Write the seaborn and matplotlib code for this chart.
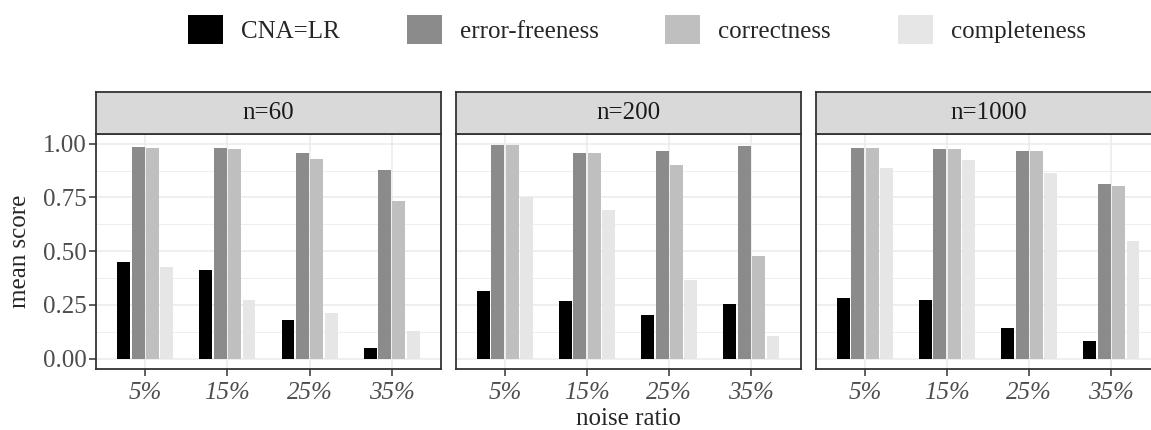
import numpy as np
import pandas as pd
import matplotlib
matplotlib.use("Agg")
import matplotlib.pyplot as plt
import seaborn as sns
from matplotlib.patches import Patch

# %%

noise = ["5%", "15%", "25%", "35%"]
sizes = ["n=60", "n=200", "n=1000"]
measures = ["CNA=LR", "error-freeness", "correctness", "completeness"]
colors = ["#000000", "#8B8B8B", "#BFBFBF", "#E6E6E6"]
yticks = [0.0, 0.25, 0.5, 0.75, 1.0]
yticklabels = ["0.00", "0.25", "0.50", "0.75", "1.00"]

# mean score per noise ratio, one list per measure
n60_cna = [0.450, 0.414, 0.181, 0.051]
n60_errfree = [0.986, 0.981, 0.958, 0.879]
n60_correct = [0.981, 0.977, 0.930, 0.735]
n60_complete = [0.428, 0.274, 0.214, 0.130]

n200_cna = [0.316, 0.270, 0.205, 0.256]
n200_errfree = [0.995, 0.958, 0.967, 0.991]
n200_correct = [0.995, 0.958, 0.902, 0.479]
n200_complete = [0.752, 0.693, 0.367, 0.107]

n1000_cna = [0.284, 0.274, 0.140, 0.084]
n1000_errfree = [0.981, 0.977, 0.967, 0.814]
n1000_correct = [0.981, 0.977, 0.967, 0.805]
n1000_complete = [0.888, 0.926, 0.865, 0.549]

# %%

rows = []
series = {
    "n=60": [n60_cna, n60_errfree, n60_correct, n60_complete],
    "n=200": [n200_cna, n200_errfree, n200_correct, n200_complete],
    "n=1000": [n1000_cna, n1000_errfree, n1000_correct, n1000_complete],
}
for s in sizes:
    for m, vals in zip(measures, series[s]):
        for nr, v in zip(noise, vals):
            rows.append({"n": s, "measure": m, "noise": nr, "score": v})
df = pd.DataFrame(rows)

# %%

sns.set_style("white")
plt.rcParams["font.family"] = ["Liberation Serif", "DejaVu Serif"]

W, H = 1151, 430
fig = plt.figure(figsize=(W / 100, H / 100), dpi=100)

edge = "#333333"
lefts = [96, 455.7, 815.7]
pw = 345
p_top, p_bot, s_top = 134, 369.3, 92.3

for i, s in enumerate(sizes):
    ax = fig.add_axes([lefts[i] / W, (H - p_bot) / H, pw / W, (p_bot - p_top) / H])
    sub = df[df["n"] == s]
    sns.barplot(data=sub, x="noise", y="score", hue="measure", order=noise,
                hue_order=measures, palette=colors, width=0.7, gap=0.1,
                linewidth=0, errorbar=None, legend=False, ax=ax)
    ax.set_xlim(-0.6, 3.6)
    ax.set_ylim(-0.05, 1.045)
    ax.set_yticks(yticks)
    ax.set_yticks([0.125, 0.375, 0.625, 0.875], minor=True)
    ax.set_axisbelow(True)
    ax.grid(which="major", color="#EBEBEB", linewidth=1.1)
    ax.grid(which="minor", axis="y", color="#EBEBEB", linewidth=0.6)
    for sp in ax.spines.values():
        sp.set_color(edge)
        sp.set_linewidth(1.3)
    ax.set_xlabel("")
    ax.set_ylabel("")
    ax.set_xticks(range(len(noise)))
    ax.set_xticklabels(noise, fontstyle="italic", fontsize=18, color="#4D4D4D")
    ax.tick_params(axis="x", which="major", length=5, width=1.1, color=edge,
                   bottom=True, pad=4)
    ax.tick_params(axis="y", which="minor", length=0)
    if i == 0:
        ax.set_yticklabels(yticklabels, fontsize=18, color="#4D4D4D")
        ax.tick_params(axis="y", which="major", length=5, width=1.1, color=edge,
                       left=True, pad=2)
    else:
        ax.tick_params(axis="y", which="major", length=0, labelleft=False)

    st = fig.add_axes([lefts[i] / W, (H - p_top) / H, pw / W, (p_top - s_top) / H])
    st.set_facecolor("#D9D9D9")
    st.set_xticks([])
    st.set_yticks([])
    for sp in st.spines.values():
        sp.set_color(edge)
        sp.set_linewidth(1.3)
    st.text(0.5, 0.5, s, ha="center", va="center", fontsize=18,
            color="#1A1A1A", transform=st.transAxes)

fig.text(20 / W, 1 - 251.5 / H, "mean score", rotation=90, ha="center",
         va="center", fontsize=18)
fig.text(628 / W, 1 - 419 / H, "noise ratio", ha="center", va="center",
         fontsize=18)

handles = [Patch(facecolor=c, edgecolor="none", label=m)
           for c, m in zip(colors, measures)]
fig.legend(handles=handles, loc="center", bbox_to_anchor=(637 / W, 1 - 29.5 / H),
           ncol=4, frameon=False, fontsize=18, handlelength=1.4,
           handleheight=1.4, handletextpad=0.72, columnspacing=2.68,
           borderpad=0)

fig.savefig("out.png", dpi=100)
